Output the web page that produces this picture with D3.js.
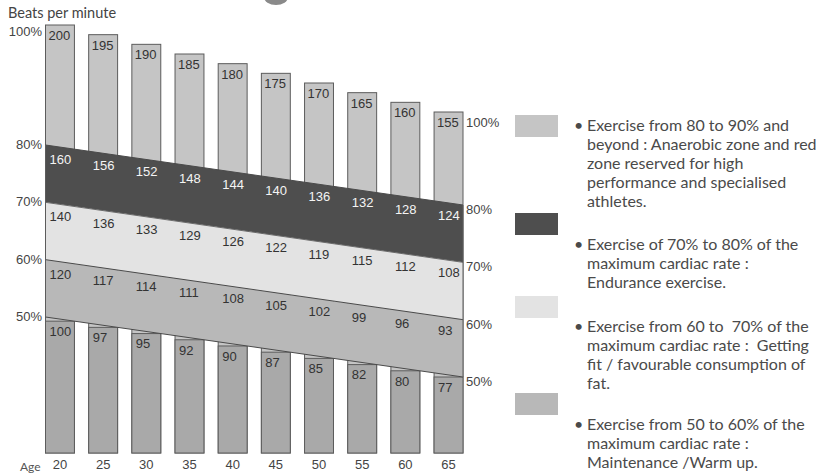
<!DOCTYPE html>
<html>
<head>
<meta charset="utf-8">
<script src="https://cdn.jsdelivr.net/npm/d3@7"></script>
<style>
  html, body { margin: 0; padding: 0; background: #fff; }
  svg { display: block; }
</style>
</head>
<body>
<svg id="chart" width="840" height="474"></svg>
<script>
// Heart-rate training zones by age (beats per minute)
const ages     = [20, 25, 30, 35, 40, 45, 50, 55, 60, 65];
const maxRate  = [200, 195, 190, 185, 180, 175, 170, 165, 160, 155]; // 100%
const rate80   = [160, 156, 152, 148, 144, 140, 136, 132, 128, 124];
const rate70   = [140, 136, 133, 129, 126, 122, 119, 115, 112, 108];
const rate60   = [120, 117, 114, 111, 108, 105, 102, 99, 96, 93];
const rate50   = [100, 97, 95, 92, 90, 87, 85, 82, 80, 77];

const pctLevels = [80, 70, 60, 50];
const pctLabels = ["80%", "70%", "60%", "50%"];

const legendItems = [
  ["Exercise from 80 to 90% and", "beyond : Anaerobic zone and red", "zone reserved for high", "performance and specialised", "athletes."],
  ["Exercise of 70% to 80% of the", "maximum cardiac rate :", "Endurance exercise."],
  ["Exercise from 60 to  70% of the", "maximum cardiac rate :  Getting", "fit / favourable consumption of", "fat."],
  ["Exercise from 50 to 60% of the", "maximum cardiac rate :", "Maintenance /Warm up."]
];

const svg = d3.select("#chart");
const numFont = "'Liberation Sans', Arial, sans-serif";
const textFont = "Lato, 'Noto Sans', sans-serif";

const colTop = "#c5c5c5", colDark = "#4e4e4e", colLight = "#e3e3e3",
      colMid = "#b8b8b8", colLow = "#a9a9a9", edge = "#5c5c5c";

// Horizontal layout: one column per age
const x = d3.scaleBand().domain(ages).range([45.5, 463]).paddingInner(0.33).paddingOuter(0);
const bw = x.bandwidth();
const ageX = d3.scaleLinear().domain([20, 65]).range([x(20), x(65) + bw]);

// Bar tops follow the maximum rate
const yTop = d3.scaleLinear().domain([155, 200]).range([112, 25]);
// Zone boundaries: position by percentage, sloping down with age
const yPct = d3.scaleLinear().domain([50, 80]).range([317, 145]);
const drop = d3.scaleLinear().domain([20, 65]).range([0, 60]);
const yBase = 453;
const zoneY = (pct, age) => yPct(pct) + drop(age);
const ageAtX = px => ageX.invert(px);

// Small dark mark at the top edge
svg.append("ellipse").attr("cx", 276).attr("cy", -3).attr("rx", 12).attr("ry", 8).attr("fill", "#8a8a8a");

// Upper bars (maximum rate)
svg.append("g").selectAll("rect").data(ages).join("rect")
  .attr("x", d => x(d)).attr("width", bw)
  .attr("y", (d, i) => yTop(maxRate[i]))
  .attr("height", (d, i) => yBase - yTop(maxRate[i]))
  .attr("fill", colTop).attr("stroke", edge).attr("stroke-width", 1);

// Lower bars (below 50%)
svg.append("g").selectAll("rect").data(ages).join("rect")
  .attr("x", d => x(d)).attr("width", bw)
  .attr("y", d => zoneY(50, ageAtX(x(d) + bw)))
  .attr("height", d => yBase - zoneY(50, ageAtX(x(d) + bw)))
  .attr("fill", colLow).attr("stroke", edge).attr("stroke-width", 1);

// Zone bands across all columns
const bands = [
  { hi: 80, lo: 70, fill: colDark },
  { hi: 70, lo: 60, fill: colLight },
  { hi: 60, lo: 50, fill: colMid }
];
const bandPath = b => {
  const p = d3.path();
  p.moveTo(ageX(20), zoneY(b.hi, 20));
  p.lineTo(ageX(65), zoneY(b.hi, 65));
  p.lineTo(ageX(65), zoneY(b.lo, 65));
  p.lineTo(ageX(20), zoneY(b.lo, 20));
  p.closePath();
  return p.toString();
};
svg.append("g").selectAll("path").data(bands).join("path")
  .attr("d", bandPath).attr("fill", d => d.fill).attr("stroke", "none");

// Boundary lines and side edges
svg.append("g").selectAll("line").data([80, 70, 60, 50]).join("line")
  .attr("x1", ageX(20)).attr("x2", ageX(65))
  .attr("y1", d => zoneY(d, 20)).attr("y2", d => zoneY(d, 65))
  .attr("stroke", d => d === 70 ? "#6a6a6a" : "#4a4a4a").attr("stroke-width", 1);
svg.append("line").attr("x1", ageX(20)).attr("x2", ageX(20))
  .attr("y1", zoneY(80, 20)).attr("y2", zoneY(50, 20)).attr("stroke", edge);
svg.append("line").attr("x1", ageX(65)).attr("x2", ageX(65))
  .attr("y1", zoneY(80, 65)).attr("y2", zoneY(50, 65)).attr("stroke", edge);

// Value labels
const lbl = svg.append("g").attr("font-family", numFont).attr("font-size", 13);
lbl.selectAll("text.top").data(ages).join("text").attr("class", "top")
  .attr("x", d => x(d) + 3).attr("y", (d, i) => yTop(maxRate[i]) + 15)
  .attr("fill", "#333").text((d, i) => maxRate[i]);

const zoneSeries = [
  { pct: 80, vals: rate80, fill: "#f4f4f4" },
  { pct: 70, vals: rate70, fill: "#333" },
  { pct: 60, vals: rate60, fill: "#333" },
  { pct: 50, vals: rate50, fill: "#333" }
];
zoneSeries.forEach(s => {
  lbl.append("g").selectAll("text").data(ages).join("text")
    .attr("x", d => x(d) + 4)
    .attr("y", d => zoneY(s.pct, ageAtX(x(d))) + 19)
    .attr("fill", s.fill).text((d, i) => s.vals[i]);
});

// Percentage labels, left and right
const pl = svg.append("g").attr("font-family", numFont).attr("font-size", 13).attr("fill", "#444");
pl.append("text").attr("x", 42).attr("y", 36).attr("text-anchor", "end").text("100%");
pl.selectAll("text.l").data(pctLevels).join("text").attr("class", "l")
  .attr("x", 42).attr("text-anchor", "end")
  .attr("y", d => zoneY(d, 20) + 4).text((d, i) => pctLabels[i]);
pl.append("text").attr("x", 466).attr("y", yTop(155) + 15).text("100%");
pl.selectAll("text.r").data(pctLevels).join("text").attr("class", "r")
  .attr("x", 466)
  .attr("y", d => zoneY(d, 65) + 9).text((d, i) => pctLabels[i]);

// Age axis
const ax = svg.append("g").attr("transform", `translate(0,${yBase})`)
  .call(d3.axisBottom(x).tickSize(0).tickPadding(4));
ax.select(".domain").remove();
ax.selectAll("text").attr("font-family", numFont).attr("font-size", 13).attr("fill", "#444").attr("dy", "0.9em");

svg.append("text").attr("x", 20).attr("y", 471).attr("font-family", textFont)
  .attr("font-size", 12).attr("fill", "#555").text("Age");
svg.append("text").attr("x", 8).attr("y", 18).attr("font-family", textFont)
  .attr("font-size", 14.5).attr("fill", "#444").text("Beats per minute");

// Legend (double spaces kept as non-breaking spaces)
const legendFills = [colTop, colDark, colLight, colMid];
const blockY = [126, 245, 327, 425];
const swatchY = [115, 213, 296, 393];
const lineH = 19;
const lg = svg.append("g").attr("font-family", textFont).attr("font-size", 16).attr("fill", "#4a4a4a");
legendItems.forEach((lines, k) => {
  svg.append("rect").attr("x", 515).attr("y", swatchY[k]).attr("width", 43).attr("height", 22)
    .attr("fill", legendFills[k]);
  lg.append("text").attr("x", 574).attr("y", blockY[k] + 5).text("•");
  lines.forEach((t, j) => {
    lg.append("text").attr("x", 587).attr("y", blockY[k] + 5 + j * lineH)
      .text(t.replace(/  /g, " \u00a0"));
  });
});
</script>
</body>
</html>
